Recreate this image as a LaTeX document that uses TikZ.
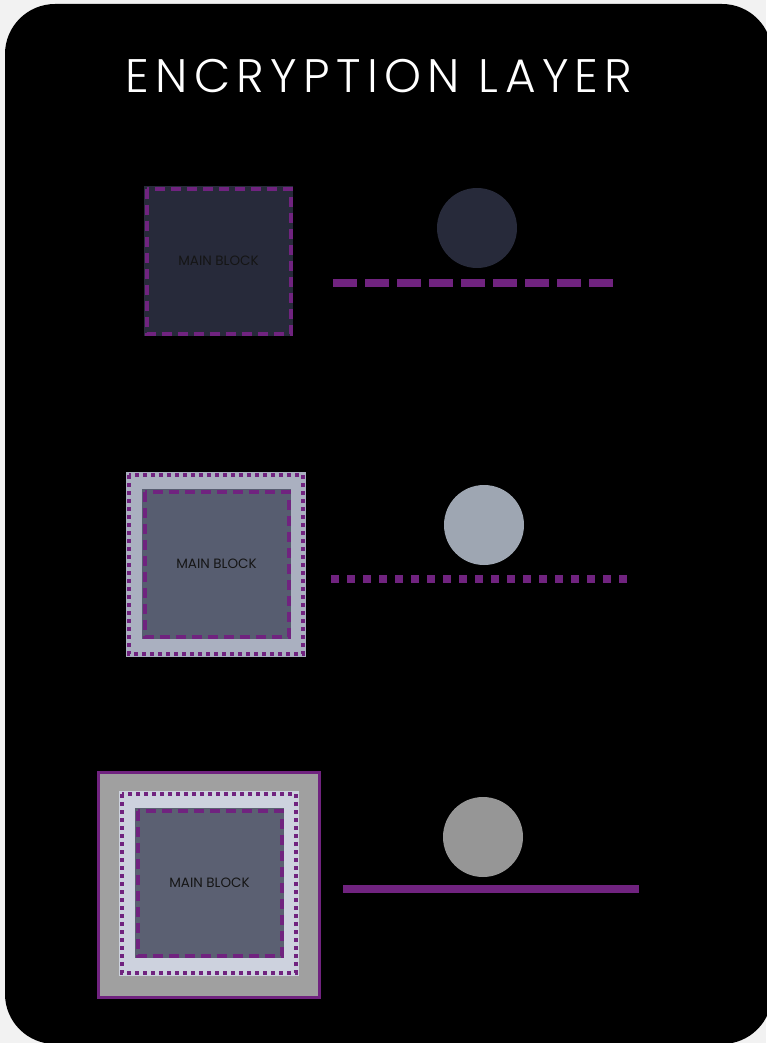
\documentclass[tikz,border=0pt]{standalone}
\usepackage{fontspec}
\setmainfont{Poppins}
\newfontfamily\titlefont[LetterSpace=13.5, UprightFont={* Light}]{Poppins}
\definecolor{pagebg}{HTML}{F2F2F2}
\definecolor{ink}{HTML}{000000}
\definecolor{purp}{HTML}{70237F}
\definecolor{navy}{HTML}{272A3A}
\definecolor{slatelight}{HTML}{AAB0C0}
\definecolor{slatemid}{HTML}{575D70}
\definecolor{slatemid2}{HTML}{5B6072}
\definecolor{greyouter}{HTML}{A0A0A0}
\definecolor{palebox}{HTML}{CDD2DE}
\definecolor{circtwo}{HTML}{9EA6B2}
\definecolor{circthree}{HTML}{969696}
\definecolor{labelink}{HTML}{151515}
\tikzset{
  blockbox/.style={rectangle, inner sep=0pt, outer sep=0pt},
  dashborder/.style={draw=purp, line width=4pt, dash pattern=on 10pt off 6pt},
  dotborder/.style={draw=purp, line width=4pt, dash pattern=on 4pt off 4pt},
  solidborder/.style={draw=purp, line width=3pt},
  blocklabel/.style={font=\fontsize{13.5}{15}\selectfont, text=labelink},
  disc/.style={circle, minimum size=80pt, inner sep=0pt},
  barline/.style={draw=purp, line width=8pt, line cap=butt},
}
\begin{document}
\begin{tikzpicture}[x=1pt,y=-1pt]
\path[use as bounding box, fill=pagebg] (0,0) rectangle (766,1043);
\fill[ink, rounded corners=50pt] (5,4) rectangle (772,1044);

\node[anchor=base, text=white, font=\titlefont\fontsize{47}{52}\selectfont] (title) at (379,93) {ENCRYPTION LAYER};

% Row 1
\node[blockbox, fill=navy, minimum width=149pt, minimum height=150pt] (b1) at (218.5,261) {};
\draw[dashborder] ([shift={(2.5,2.5)}]b1.north west) rectangle ([shift={(-2.5,-2.5)}]b1.south east);
\node[blocklabel] (t1) at (b1.center) {MAIN BLOCK};
\node[disc, fill=navy] (c1) at (477,228) {};
\coordinate (l1a) at (333,282.5);
\coordinate (l1b) at (613,282.5);
\draw[barline, dash pattern=on 24pt off 8pt] (l1a) -- (l1b);

% Row 2
\node[blockbox, fill=slatelight, minimum width=180pt, minimum height=185pt] (o2) at (216,564.5) {};
\draw[dotborder] ([shift={(3,3)}]o2.north west) rectangle ([shift={(-3,-3)}]o2.south east);
\node[blockbox, fill=slatemid, minimum width=149pt, minimum height=150pt] (b2) at (216.5,564) {};
\draw[dashborder] ([shift={(2.5,2.5)}]b2.north west) rectangle ([shift={(-2.5,-2.5)}]b2.south east);
\node[blocklabel] (t2) at (b2.center) {MAIN BLOCK};
\node[disc, fill=circtwo] (c2) at (484,525) {};
\coordinate (l2a) at (331,579);
\coordinate (l2b) at (627,579);
\draw[barline, dash pattern=on 8pt off 8pt] (l2a) -- (l2b);

% Row 3
\node[blockbox, fill=greyouter, minimum width=224pt, minimum height=228pt] (o3) at (209,885) {};
\draw[solidborder] ([shift={(1.5,1.5)}]o3.north west) rectangle ([shift={(-1.5,-1.5)}]o3.south east);
\node[blockbox, fill=palebox, minimum width=180pt, minimum height=185pt] (m3) at (209,883.5) {};
\draw[dotborder] ([shift={(3,3)}]m3.north west) rectangle ([shift={(-3,-3)}]m3.south east);
\node[blockbox, fill=slatemid2, minimum width=149pt, minimum height=150pt] (b3) at (209.5,883) {};
\draw[dashborder] ([shift={(2.5,2.5)}]b3.north west) rectangle ([shift={(-2.5,-2.5)}]b3.south east);
\node[blocklabel] (t3) at (b3.center) {MAIN BLOCK};
\node[disc, fill=circthree] (c3) at (483,837) {};
\coordinate (l3a) at (343,889);
\coordinate (l3b) at (639,889);
\draw[barline] (l3a) -- (l3b);
\end{tikzpicture}
\end{document}
